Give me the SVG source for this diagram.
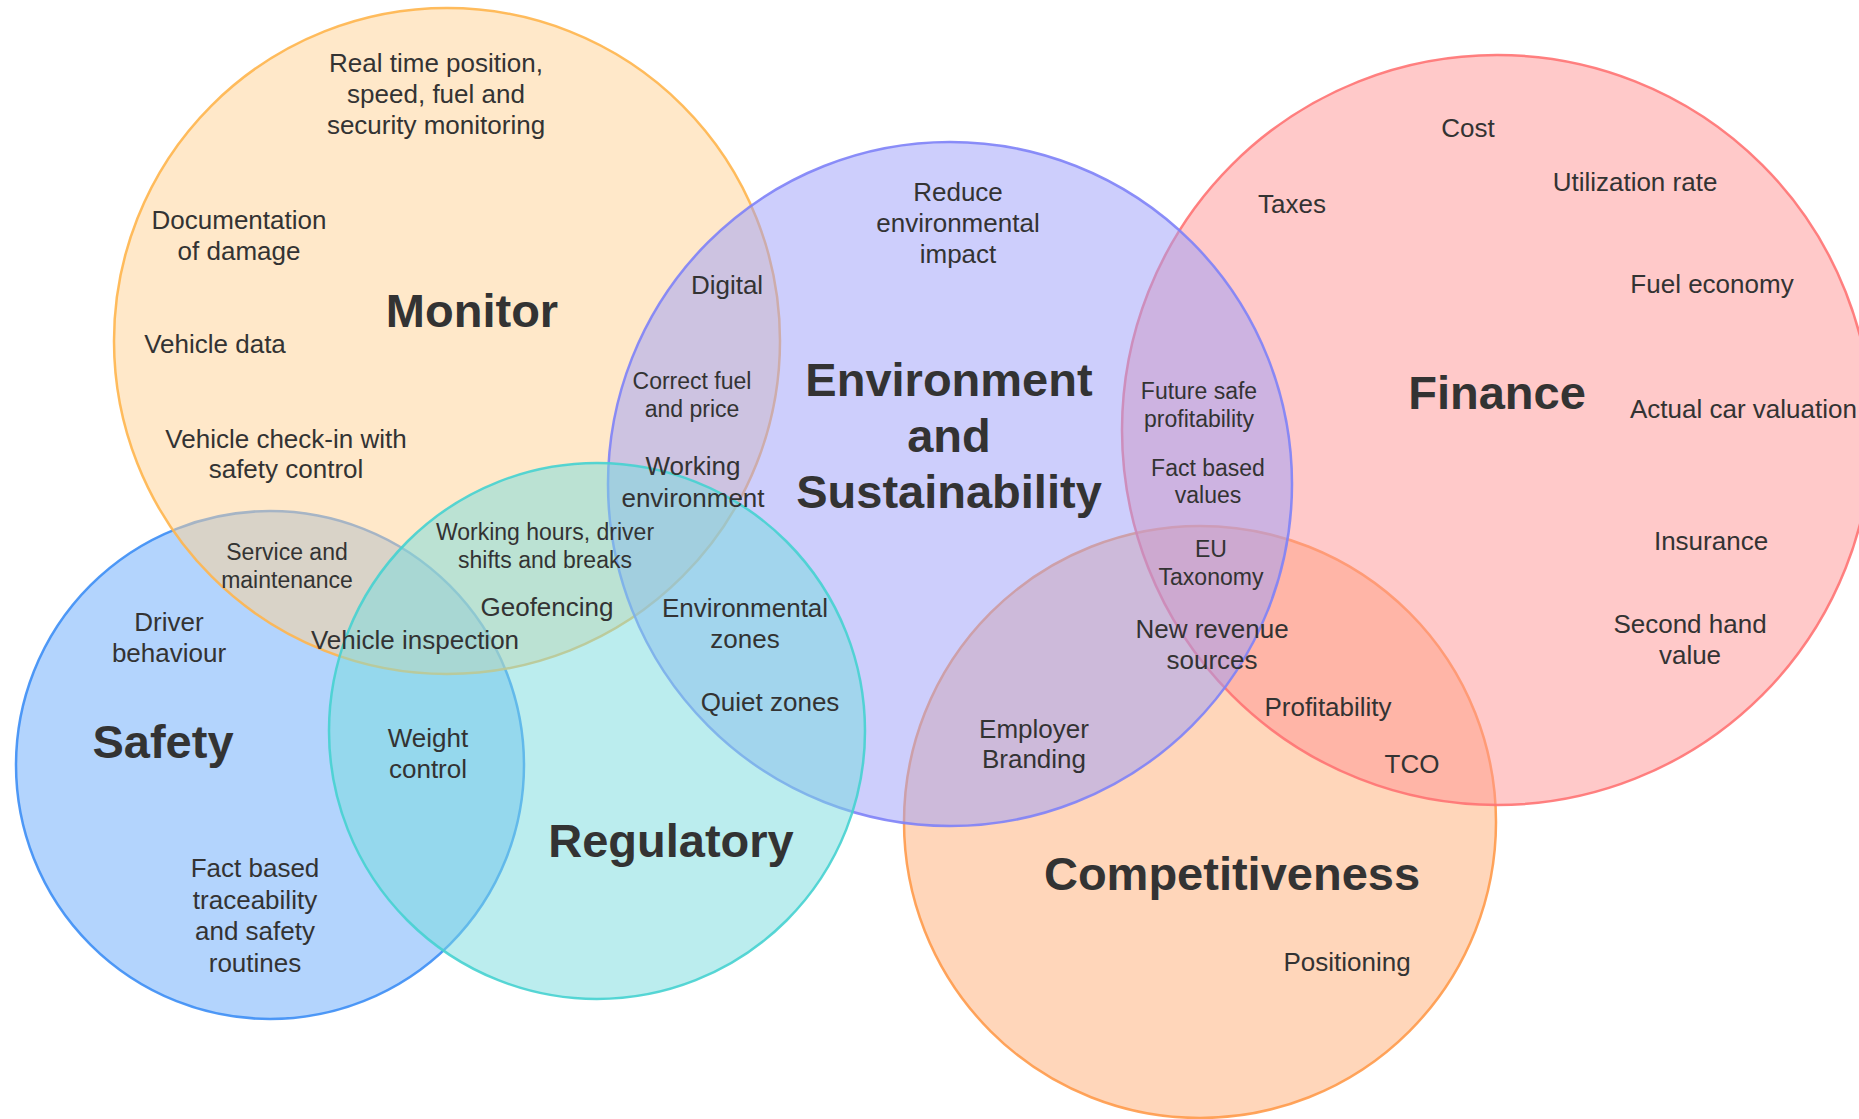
<svg xmlns="http://www.w3.org/2000/svg" width="1859" height="1119" viewBox="0 0 1859 1119">
<style>
.set{fill-opacity:0.5;stroke-width:2.5;stroke-opacity:0.9}
text{font-family:"Liberation Sans",Arial,sans-serif;fill:#333333;text-anchor:middle}
.b{font-size:26px}
.s{font-size:23px}
.t{font-size:47px;font-weight:bold}
</style>
<rect width="1859" height="1119" fill="#ffffff"/>
<g id="sets">
<g id="safety"><circle class="set" cx="270" cy="765" r="254" fill="#67A9FB" stroke="#3D8EF5"/></g>
<g id="monitor"><circle class="set" cx="447" cy="341" r="333" fill="#FFD193" stroke="#FFB54D"/></g>
<g id="competitiveness"><circle class="set" cx="1200" cy="822" r="296" fill="#FFAD75" stroke="#FF9A4A"/></g>
<g id="finance"><circle class="set" cx="1497" cy="430" r="375" fill="#FF9393" stroke="#FF7373"/></g>
<g id="environment"><circle class="set" cx="950" cy="484" r="342" fill="#9B9DF9" stroke="#7E82F7"/></g>
<g id="regulatory"><circle class="set" cx="597" cy="731" r="268" fill="#77DBDD" stroke="#46D1D0"/></g>
</g>
<g id="labels">
<g id="monitor-labels">
<text class="t" x="472" y="327">Monitor</text>
<text class="b" x="436" y="72">Real time position,</text>
<text class="b" x="436" y="103">speed, fuel and</text>
<text class="b" x="436" y="134">security monitoring</text>
<text class="b" x="239" y="229">Documentation</text>
<text class="b" x="239" y="260">of damage</text>
<text class="b" x="215" y="353">Vehicle data</text>
<text class="b" x="286" y="448">Vehicle check-in with</text>
<text class="b" x="286" y="478">safety control</text>
</g>
<g id="environment-labels">
<text class="t" x="949" y="396">Environment</text>
<text class="t" x="949" y="452">and</text>
<text class="t" x="949" y="508">Sustainability</text>
<text class="b" x="958" y="201">Reduce</text>
<text class="b" x="958" y="232">environmental</text>
<text class="b" x="958" y="263">impact</text>
<text class="b" x="727" y="294">Digital</text>
<text class="s" x="692" y="389">Correct fuel</text>
<text class="s" x="692" y="417">and price</text>
<text class="b" x="693" y="475">Working</text>
<text class="b" x="693" y="507">environment</text>
</g>
<g id="regulatory-labels">
<text class="t" x="671" y="857">Regulatory</text>
<text class="s" x="545" y="540">Working hours, driver</text>
<text class="s" x="545" y="568">shifts and breaks</text>
<text class="b" x="547" y="616">Geofencing</text>
<text class="b" x="415" y="649">Vehicle inspection</text>
<text class="b" x="745" y="617">Environmental</text>
<text class="b" x="745" y="648">zones</text>
<text class="b" x="770" y="711">Quiet zones</text>
<text class="b" x="428" y="747">Weight</text>
<text class="b" x="428" y="778">control</text>
</g>
<g id="safety-labels">
<text class="t" x="163" y="758">Safety</text>
<text class="s" x="287" y="560">Service and</text>
<text class="s" x="287" y="588">maintenance</text>
<text class="b" x="169" y="631">Driver</text>
<text class="b" x="169" y="662">behaviour</text>
<text class="b" x="255" y="877">Fact based</text>
<text class="b" x="255" y="909">traceability</text>
<text class="b" x="255" y="940">and safety</text>
<text class="b" x="255" y="972">routines</text>
</g>
<g id="finance-labels">
<text class="t" x="1497" y="409">Finance</text>
<text class="b" x="1468" y="137">Cost</text>
<text class="b" x="1635" y="191">Utilization rate</text>
<text class="b" x="1292" y="213">Taxes</text>
<text class="b" x="1712" y="293">Fuel economy</text>
<text class="b" x="1630" y="418" style="text-anchor:start">Actual car valuation</text>
<text class="b" x="1711" y="550">Insurance</text>
<text class="b" x="1690" y="633">Second hand</text>
<text class="b" x="1690" y="664">value</text>
<text class="s" x="1199" y="399">Future safe</text>
<text class="s" x="1199" y="427">profitability</text>
<text class="s" x="1208" y="476">Fact based</text>
<text class="s" x="1208" y="503">values</text>
<text class="s" x="1211" y="557">EU</text>
<text class="s" x="1211" y="585">Taxonomy</text>
</g>
<g id="competitiveness-labels">
<text class="t" x="1232" y="890">Competitiveness</text>
<text class="b" x="1212" y="638">New revenue</text>
<text class="b" x="1212" y="669">sources</text>
<text class="b" x="1328" y="716">Profitability</text>
<text class="b" x="1412" y="773">TCO</text>
<text class="b" x="1034" y="738">Employer</text>
<text class="b" x="1034" y="768">Branding</text>
<text class="b" x="1347" y="971">Positioning</text>
</g>
</g>
</svg>
